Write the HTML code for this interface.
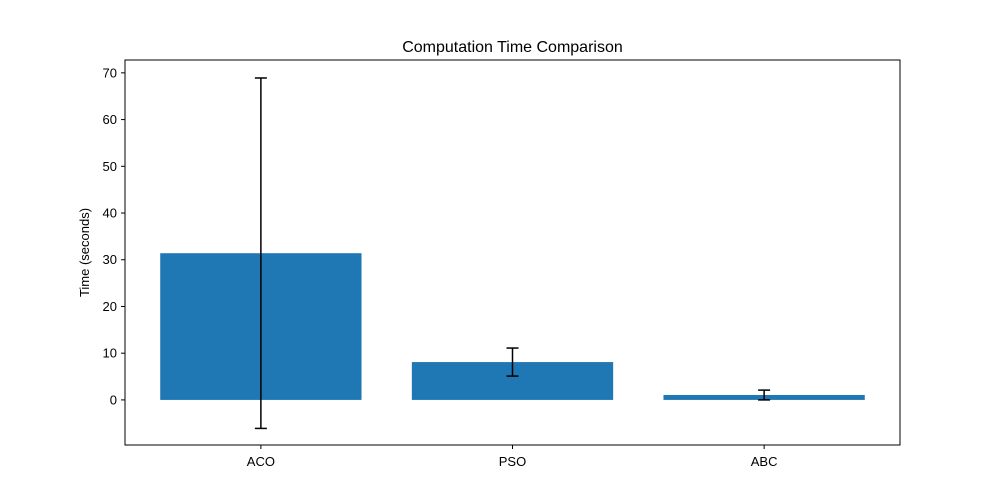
<!DOCTYPE html>
<html><head><meta charset="utf-8"><style>body{margin:0;background:#fff}svg{display:block;font-family:"Liberation Sans","DejaVu Sans",sans-serif}</style></head>
<body>
<svg id="chart" width="1000" height="500" viewBox="0 0 1000 500">
<rect width="1000" height="500" fill="#fff"/>
<text x="512.5" y="52" text-anchor="middle" font-size="16">Computation Time Comparison</text>
<text transform="translate(89,252.5) rotate(-90)" text-anchor="middle" font-size="13">Time (seconds)</text>
<g id="marks"></g>
<rect x="125" y="60" width="775" height="385" fill="none" stroke="#000" stroke-width="1"/>
</svg>
<script>
const categories = ["ACO", "PSO", "ABC"];
const means = [31.4, 8.1, 1.05];
const errors = [37.5, 3.0, 1.05];
const yTicks = [0, 10, 20, 30, 40, 50, 60, 70];
const L=125,R=900,T=60,B=445;
const xMin=-0.54,xMax=2.54,yMin=-9.65,yMax=72.75;
const sx=v=>L+(v-xMin)/(xMax-xMin)*(R-L);
const sy=v=>B-(v-yMin)/(yMax-yMin)*(B-T);
const ns="http://www.w3.org/2000/svg";
const g=document.getElementById('marks');
function mk(t,a){const e=document.createElementNS(ns,t);for(const k in a)e.setAttribute(k,a[k]);g.appendChild(e);return e;}
categories.forEach((c,i)=>{
  const x0=sx(i-0.4),x1=sx(i+0.4),y=sy(means[i]),y0=sy(0);
  const bar=mk('rect',{x:x0,y:Math.min(y,y0),width:x1-x0,height:Math.abs(y0-y),fill:'#1f77b4'});
  
  
  const cx=sx(i),yt=sy(means[i]+errors[i]),yb=sy(means[i]-errors[i]);
  const eg=mk('g',{stroke:'#000','stroke-width':1.5});
  
  
  [[cx,yt,cx,yb],[cx-6,yt,cx+6,yt],[cx-6,yb,cx+6,yb]].forEach(p=>{const l=document.createElementNS(ns,'line');l.setAttribute('x1',p[0]);l.setAttribute('y1',p[1]);l.setAttribute('x2',p[2]);l.setAttribute('y2',p[3]);eg.appendChild(l);});
  const tk=mk('line',{x1:cx,x2:cx,y1:B,y2:B+4,stroke:'#000'});
  
  
  const tl=mk('text',{x:cx,y:B+21,'text-anchor':'middle','font-size':13});
  
  
  tl.textContent=c;
});
yTicks.forEach(v=>{
  const y=sy(v);
  const tk=mk('line',{x1:L-4,x2:L,y1:y,y2:y,stroke:'#000'});
  
  
  const tl=mk('text',{x:L-8,y:y+4.5,'text-anchor':'end','font-size':13});
  
  
  tl.textContent=v;
});
</script>
</body></html>
